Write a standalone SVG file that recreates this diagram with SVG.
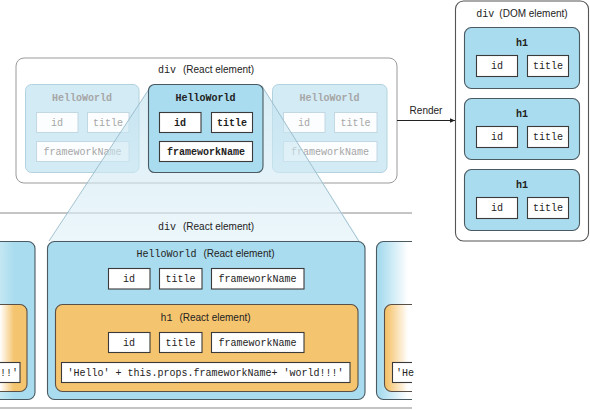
<svg xmlns="http://www.w3.org/2000/svg" width="590" height="410" viewBox="0 0 590 410">
<defs>
<style>
.mono{font-family:"Liberation Mono","DejaVu Sans Mono",monospace;font-size:10px;fill:#222}
.b{font-weight:bold}
.sans{font-family:"Liberation Sans",Arial,sans-serif;font-size:10px;fill:#222}
.prop{fill:#fff;stroke:#3a3a3a;stroke-width:1.1}
.fprop{fill:#fbfdfe;stroke:#c2d8e2;stroke-width:1}
.ftxt{fill:#a6a6a6}
.blue{fill:#a9dcee;stroke:#4a5a62;stroke-width:1.1}
.fblue{fill:#d3ebf5;stroke:#b3d2df;stroke-width:1}
.orange{fill:#f5c46e;stroke:#5a5048;stroke-width:1.1}
.frame{fill:#fff;stroke:#9a9a9a;stroke-width:1}
.edge{stroke:#8fb4c4;stroke-width:0.8;fill:none}
</style>
<linearGradient id="trap" x1="0" y1="0" x2="0" y2="1">
<stop offset="0" stop-color="#bfe1ef" stop-opacity="0.6"/>
<stop offset="1" stop-color="#e0f1f8" stop-opacity="0.6"/>
</linearGradient>
<linearGradient id="rblue" gradientUnits="userSpaceOnUse" x1="380" y1="0" x2="408" y2="0">
<stop offset="0" stop-color="#a9dcee"/>
<stop offset="1" stop-color="#ffffff"/>
</linearGradient>
<linearGradient id="rorange" gradientUnits="userSpaceOnUse" x1="387" y1="0" x2="408" y2="0">
<stop offset="0" stop-color="#f5c46e"/>
<stop offset="1" stop-color="#ffffff"/>
</linearGradient>
<linearGradient id="lorange" gradientUnits="userSpaceOnUse" x1="0" y1="0" x2="14" y2="0">
<stop offset="0" stop-color="#ffffff"/>
<stop offset="1" stop-color="#f5c46e"/>
</linearGradient>
<linearGradient id="lblue" gradientUnits="userSpaceOnUse" x1="0" y1="0" x2="14" y2="0">
<stop offset="0" stop-color="#c4e7f3"/>
<stop offset="1" stop-color="#a9dcee"/>
</linearGradient>
<clipPath id="bclip"><rect x="0" y="200" width="412" height="210"/></clipPath>
<marker id="arr" markerWidth="6" markerHeight="6" refX="5" refY="3" orient="auto" markerUnits="userSpaceOnUse">
<path d="M0,0.8 L5,3 L0,5.2 Z" fill="#222"/>
</marker>
</defs>

<g id="bottom-frame">
<line x1="0" y1="213" x2="412" y2="213" stroke="#8a8a8a" stroke-width="1"/>
<line x1="0" y1="408" x2="412" y2="408" stroke="#c4c4c4" stroke-width="2"/>
</g>

<g id="top-div">
<rect class="frame" x="16" y="58" width="381" height="125" rx="8" stroke="#aaaaaa"/>
<text class="mono" x="158" y="72.5">div</text>
<text class="sans" x="183" y="72.5">(React element)</text>
</g>

<g id="hw-left-faded">
<rect class="fblue" x="25.5" y="84.5" width="113.5" height="88" rx="6"/>
<text class="mono b ftxt" x="82" y="100.5" text-anchor="middle">HelloWorld</text>
<rect class="fprop" x="36.5" y="112.5" width="41.5" height="20"/>
<text class="mono ftxt" x="57" y="125.5" text-anchor="middle">id</text>
<rect class="fprop" x="87.5" y="112.5" width="41.5" height="20"/>
<text class="mono ftxt" x="108" y="125.5" text-anchor="middle">title</text>
<rect class="fprop" x="36.5" y="141.5" width="92.5" height="20"/>
<text class="mono ftxt" x="82.5" y="154.5" text-anchor="middle">frameworkName</text>
</g>

<g id="hw-right-faded">
<rect class="fblue" x="272.5" y="84.5" width="114.5" height="88" rx="6"/>
<text class="mono b ftxt" x="329.5" y="100.5" text-anchor="middle">HelloWorld</text>
<rect class="fprop" x="283.5" y="112.5" width="41.5" height="20"/>
<text class="mono ftxt" x="304" y="125.5" text-anchor="middle">id</text>
<rect class="fprop" x="334.5" y="112.5" width="42.5" height="20"/>
<text class="mono ftxt" x="355.5" y="125.5" text-anchor="middle">title</text>
<rect class="fprop" x="283.5" y="141.5" width="93.5" height="20"/>
<text class="mono ftxt" x="330" y="154.5" text-anchor="middle">frameworkName</text>
</g>

<g id="zoom-trapezoid">
<polygon points="151,86 262,86 360,241 49,241" fill="url(#trap)"/>
<line class="edge" x1="151" y1="86" x2="49" y2="241"/>
<line class="edge" x1="262" y1="86" x2="360" y2="243"/>
</g>

<g id="hw-middle">
<rect class="blue" x="148.5" y="84.5" width="114.5" height="88" rx="6" stroke="#3c4a52" stroke-width="1.3"/>
<text class="mono b" x="205.5" y="100.5" text-anchor="middle">HelloWorld</text>
<rect class="prop" x="159.5" y="112.5" width="41.5" height="20"/>
<text class="mono b" x="180" y="125.5" text-anchor="middle">id</text>
<rect class="prop" x="211.5" y="112.5" width="41" height="20"/>
<text class="mono b" x="232" y="125.5" text-anchor="middle">title</text>
<rect class="prop" x="159.5" y="141.5" width="93" height="20"/>
<text class="mono b" x="206" y="154.5" text-anchor="middle">frameworkName</text>
</g>

<g id="bottom-div">
<text class="mono" x="158" y="229.5">div</text>
<text class="sans" x="183" y="229.5">(React element)</text>

<g id="hw-left-partial">
<g clip-path="url(#bclip)">
<rect x="-90" y="241.5" width="125" height="158" rx="7" fill="url(#lblue)" stroke="#4a5a62" stroke-width="1.1"/>
<rect x="-90" y="304.5" width="117" height="87" rx="7" fill="url(#lorange)" stroke="#5a5048" stroke-width="1.1"/>
<rect class="prop" x="-100" y="362.5" width="120" height="20"/>
</g>
<text class="mono" x="18" y="375.5" text-anchor="end">!!'</text>
</g>

<g id="hw-element">
<rect class="blue" x="47.5" y="241.5" width="317.5" height="158" rx="7"/>
<text x="205.5" y="257" text-anchor="middle"><tspan class="mono">HelloWorld</tspan><tspan class="sans" dx="7">(React element)</tspan></text>
<rect class="prop" x="108.5" y="268.5" width="41.5" height="20.5"/>
<text class="mono" x="129" y="282" text-anchor="middle">id</text>
<rect class="prop" x="159.5" y="268.5" width="42.5" height="20.5"/>
<text class="mono" x="180.5" y="282" text-anchor="middle">title</text>
<rect class="prop" x="211.5" y="268.5" width="92.5" height="20.5"/>
<text class="mono" x="257.5" y="282" text-anchor="middle">frameworkName</text>
</g>

<g id="h1-element">
<rect class="orange" x="55.5" y="304.5" width="302.5" height="87" rx="7"/>
<text x="205.5" y="320.5" text-anchor="middle"><tspan class="mono">h1</tspan><tspan class="sans" dx="7">(React element)</tspan></text>
<rect class="prop" x="108.5" y="332.5" width="41.5" height="20"/>
<text class="mono" x="129" y="345.5" text-anchor="middle">id</text>
<rect class="prop" x="159.5" y="332.5" width="42.5" height="20"/>
<text class="mono" x="180.5" y="345.5" text-anchor="middle">title</text>
<rect class="prop" x="211.5" y="332.5" width="92.5" height="20"/>
<text class="mono" x="257.5" y="345.5" text-anchor="middle">frameworkName</text>
<rect class="prop" x="61.5" y="362.5" width="288.5" height="20"/>
<text class="mono" x="205.5" y="375.5" text-anchor="middle">'Hello' + this.props.frameworkName+ 'world!!!'</text>
</g>

<g id="hw-right-partial">
<g clip-path="url(#bclip)">
<rect x="376.5" y="241.5" width="125" height="158" rx="7" fill="url(#rblue)" stroke="#4a5a62" stroke-width="1.1"/>
<rect x="384.5" y="304.5" width="117" height="87" rx="7" fill="url(#rorange)" stroke="#5a5048" stroke-width="1.1"/>
<rect class="prop" x="392.5" y="362.5" width="120" height="20"/>
</g>
<text class="mono" x="396" y="375.5">'He</text>
</g>
</g>

<g id="connectors">
<line x1="397" y1="120.5" x2="455" y2="120.5" stroke="#222" stroke-width="1" marker-end="url(#arr)"/>
<text class="sans" x="426" y="114" text-anchor="middle">Render</text>
</g>

<g id="dom-div">
<rect x="455.5" y="1" width="133" height="240" rx="8" fill="#fff" stroke="#555" stroke-width="1.1"/>
<text x="522" y="17" text-anchor="middle"><tspan class="mono">div</tspan><tspan class="sans" dx="5">(DOM element)</tspan></text>
</g>
<g id="dom-h1-1">
<rect class="blue" x="464.5" y="27.5" width="115" height="61" rx="7"/>
<text class="mono b" x="522" y="45.5" text-anchor="middle">h1</text>
<rect class="prop" x="476.5" y="55.5" width="41" height="21"/>
<text class="mono" x="497" y="69" text-anchor="middle">id</text>
<rect class="prop" x="527.5" y="55.5" width="41" height="21"/>
<text class="mono" x="548" y="69" text-anchor="middle">title</text>
</g>
<g id="dom-h1-2">
<rect class="blue" x="464.5" y="98.5" width="115" height="61" rx="7"/>
<text class="mono b" x="522" y="116.5" text-anchor="middle">h1</text>
<rect class="prop" x="476.5" y="126.5" width="41" height="21"/>
<text class="mono" x="497" y="140" text-anchor="middle">id</text>
<rect class="prop" x="527.5" y="126.5" width="41" height="21"/>
<text class="mono" x="548" y="140" text-anchor="middle">title</text>
</g>
<g id="dom-h1-3">
<rect class="blue" x="464.5" y="169.5" width="115" height="61" rx="7"/>
<text class="mono b" x="522" y="187.5" text-anchor="middle">h1</text>
<rect class="prop" x="476.5" y="197.5" width="41" height="21"/>
<text class="mono" x="497" y="211" text-anchor="middle">id</text>
<rect class="prop" x="527.5" y="197.5" width="41" height="21"/>
<text class="mono" x="548" y="211" text-anchor="middle">title</text>
</g>
</svg>
